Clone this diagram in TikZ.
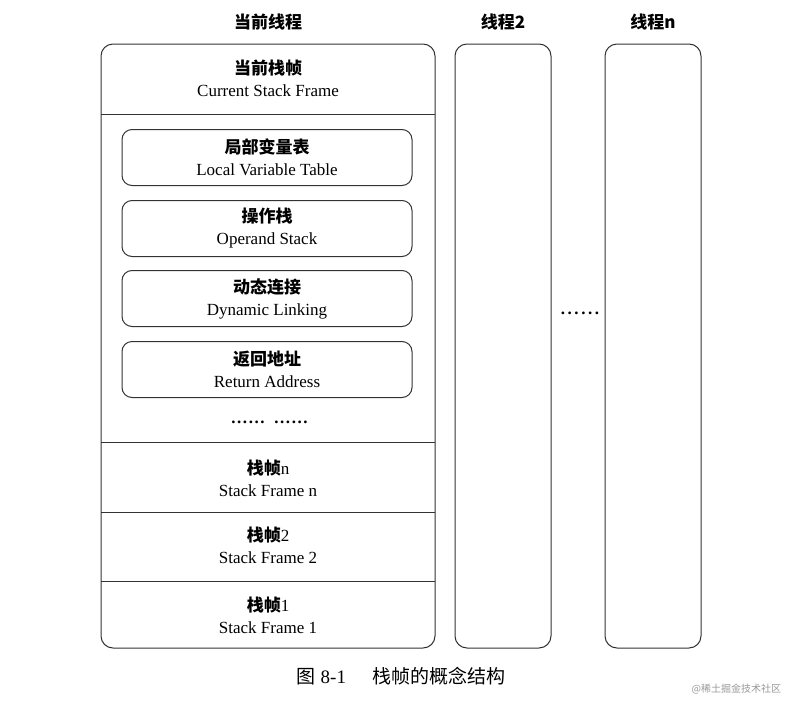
\documentclass[tikz,border=0pt]{standalone}
\usepackage{fontspec}
\setmainfont{Liberation Serif}
\newfontfamily\cjk{Noto Sans CJK SC}
\newcommand{\dotrow}[1]{{\bfseries .\hspace{#1}.\hspace{#1}.\hspace{#1}.\hspace{#1}.\hspace{#1}.}}
\begin{document}
\begin{tikzpicture}[x=1pt,y=-1pt,line width=1pt,every node/.style={inner sep=0pt,outer sep=0pt}]
\useasboundingbox[fill=white] (0,0) rectangle (788,702);
\tikzset{
  frame/.style={draw=black!80,rounded corners=12pt,minimum height=604pt},
  ibox/.style={draw=black!80,rounded corners=10pt,minimum width=290pt,minimum height=56pt},
  lbl/.style={align=center,font=\fontsize{17}{22}\selectfont},
  hd/.style={font=\cjk\bfseries\fontsize{17}{20}\selectfont},
  sep/.style={draw=black!80}
}
% thread boxes
\node[frame,minimum width=334pt] (main) at (268,346) {};
\node[frame,minimum width=96pt] (t2) at (503,346) {};
\node[frame,minimum width=96pt] (tn) at (653,346) {};
% headers
\node[hd] (h1) at (268,22) {当前线程};
\node[hd] (h2) at (503,22) {线程2};
\node[hd] (h3) at (653,22) {线程n};
% separators
\coordinate (s1) at (0,114);
\coordinate (s2) at (0,442);
\coordinate (s3) at (0,512);
\coordinate (s4) at (0,581);
\foreach \s in {s1,s2,s3,s4}{\draw[sep] (main.west |- \s) -- (main.east |- \s);}
% current frame
\node[lbl] (cur) at (268,78) {{\cjk\bfseries 当前栈帧}\\Current Stack Frame};
% inner boxes
\node[ibox] (b1) at (267,157.5) {};
\node[lbl] (b1t) at (b1) {{\cjk\bfseries 局部变量表}\\Local Variable Table};
\node[ibox] (b2) at (267,228.5) {};
\node[lbl] (b2t) at (b2) {{\cjk\bfseries 操作栈}\\Operand Stack};
\node[ibox] (b3) at (267,298.5) {};
\node[lbl] (b3t) at (b3) {{\cjk\bfseries 动态连接}\\Dynamic Linking};
\node[ibox] (b4) at (267,369.5) {};
\node[lbl] (b4t) at (b4) {{\cjk\bfseries 返回地址}\\Return Address};
\node[lbl,anchor=base] (d1) at (248,423) {\dotrow{1.6pt}};
\node[lbl,anchor=base] (d2) at (291,423) {\dotrow{1.6pt}};
% stack frames
\node[lbl] (fn) at (268,478) {{\cjk\bfseries 栈帧}n\\Stack Frame n};
\node[lbl] (f2) at (268,545) {{\cjk\bfseries 栈帧}2\\Stack Frame 2};
\node[lbl] (f1) at (268,615) {{\cjk\bfseries 栈帧}1\\Stack Frame 1};
% middle dots
\node[lbl,anchor=base] (dm) at (580,314) {\dotrow{2.6pt}};
% caption
\node[font=\fontsize{19}{22}\selectfont] (cap) at (401,676) {{\cjk 图} 8-1\hspace{26pt}{\cjk 栈帧的概念结构}};
% watermark
\node[font=\cjk\fontsize{10}{12}\selectfont,text=black!40,anchor=east] (wm) at (781,689) {@稀土掘金技术社区};
\end{tikzpicture}
\end{document}
